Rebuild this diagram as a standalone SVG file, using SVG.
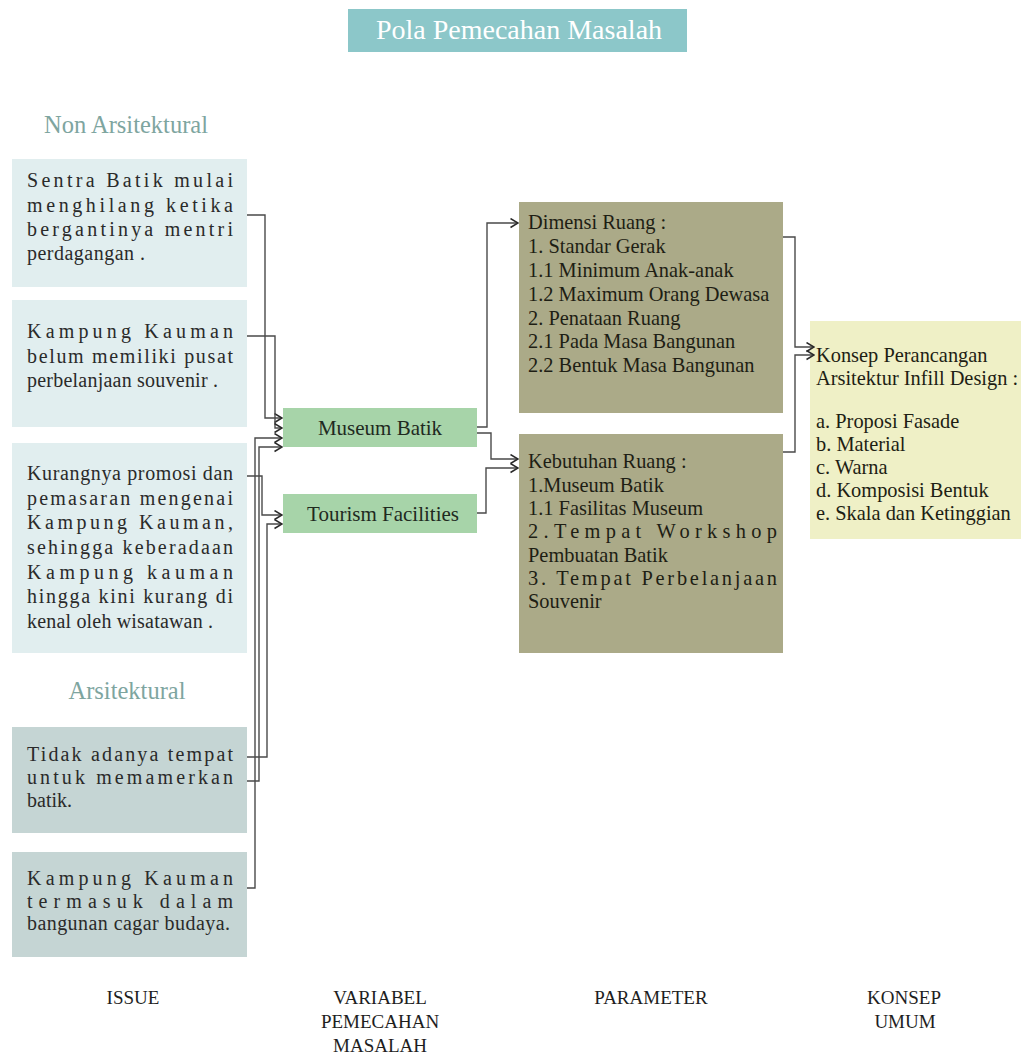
<svg xmlns="http://www.w3.org/2000/svg" width="1024" height="1064" viewBox="0 0 1024 1064">
  <style>
    .serif { font-family: "Liberation Serif", "Times New Roman", serif; }
    .body { font-size: 20px; fill: #2a2a2a; }
    .head { font-size: 24.5px; fill: #7ea59f; text-anchor: middle; }
    .col { font-size: 19px; fill: #1e1e1e; text-anchor: middle; }
    .var { font-size: 21px; fill: #1f2a1f; text-anchor: middle; }
    .par { font-size: 20.4px; fill: #1e1e14; }
    .issue-na { fill: #e1eeef; }
    .issue-a { fill: #c5d5d4; }
    .var-box { fill: #a7d4a9; }
    .par-box { fill: #abaa88; }
    .kon-box { fill: #eff0c6; }
    .link { fill: none; stroke: #4a4a4a; stroke-width: 1.4; marker-end: url(#arr); }
  </style>
  <defs>
    <marker id="arr" viewBox="0 0 9 11" refX="8.5" refY="5.5" markerWidth="9" markerHeight="11" markerUnits="userSpaceOnUse" orient="auto">
      <path d="M1,1 L8.5,5.5 L1,10" fill="none" stroke="#2a2a2a" stroke-width="1.5"/>
    </marker>
  </defs>

  <rect width="1024" height="1064" fill="#ffffff"/>

  <!-- title -->
  <g id="title">
    <rect x="348" y="9" width="339" height="43" fill="#8cc7c9"/>
    <text class="serif" x="519" y="39" font-size="28" fill="#ffffff" text-anchor="middle">Pola Pemecahan Masalah</text>
  </g>

  <!-- section headings -->
  <text id="head-non" class="serif head" x="126" y="133">Non Arsitektural</text>
  <text id="head-ars" class="serif head" x="127" y="699">Arsitektural</text>

  <!-- issue column -->
  <g id="issue-1">
    <rect class="issue-na" x="12" y="159" width="235" height="128"/>
    <text class="serif body">
      <tspan x="27" y="187" textLength="206" lengthAdjust="spacing">Sentra Batik mulai</tspan>
      <tspan x="27" y="212" textLength="206" lengthAdjust="spacing">menghilang ketika</tspan>
      <tspan x="27" y="236" textLength="206" lengthAdjust="spacing">bergantinya mentri</tspan>
      <tspan x="27" y="260" textLength="118" lengthAdjust="spacing">perdagangan .</tspan>
    </text>
  </g>
  <g id="issue-2">
    <rect class="issue-na" x="12" y="300" width="235" height="127"/>
    <text class="serif body">
      <tspan x="27" y="338" textLength="206" lengthAdjust="spacing">Kampung Kauman</tspan>
      <tspan x="27" y="363" textLength="206" lengthAdjust="spacing">belum memiliki pusat</tspan>
      <tspan x="27" y="387" textLength="191" lengthAdjust="spacing">perbelanjaan souvenir .</tspan>
    </text>
  </g>
  <g id="issue-3">
    <rect class="issue-na" x="12" y="443" width="235" height="210"/>
    <text class="serif body">
      <tspan x="27" y="480" textLength="206" lengthAdjust="spacing">Kurangnya promosi dan</tspan>
      <tspan x="27" y="505" textLength="206" lengthAdjust="spacing">pemasaran mengenai</tspan>
      <tspan x="27" y="529" textLength="206" lengthAdjust="spacing">Kampung Kauman,</tspan>
      <tspan x="27" y="554" textLength="206" lengthAdjust="spacing">sehingga keberadaan</tspan>
      <tspan x="27" y="579" textLength="206" lengthAdjust="spacing">Kampung kauman</tspan>
      <tspan x="27" y="603" textLength="206" lengthAdjust="spacing">hingga kini kurang di</tspan>
      <tspan x="27" y="628" textLength="186" lengthAdjust="spacing">kenal oleh wisatawan .</tspan>
    </text>
  </g>
  <g id="issue-4">
    <rect class="issue-a" x="12" y="727" width="235" height="106"/>
    <text class="serif body">
      <tspan x="27" y="761" textLength="206" lengthAdjust="spacing">Tidak adanya tempat</tspan>
      <tspan x="27" y="784" textLength="206" lengthAdjust="spacing">untuk memamerkan</tspan>
      <tspan x="27" y="807">batik.</tspan>
    </text>
  </g>
  <g id="issue-5">
    <rect class="issue-a" x="12" y="852" width="235" height="105"/>
    <text class="serif body">
      <tspan x="27" y="885" textLength="206" lengthAdjust="spacing">Kampung Kauman</tspan>
      <tspan x="27" y="908" textLength="206" lengthAdjust="spacing">termasuk dalam</tspan>
      <tspan x="27" y="930" textLength="203" lengthAdjust="spacing">bangunan cagar budaya.</tspan>
    </text>
  </g>

  <!-- variable column -->
  <g id="var-museum">
    <rect class="var-box" x="283" y="408" width="194" height="39"/>
    <text class="serif var" x="380" y="435">Museum Batik</text>
  </g>
  <g id="var-tourism">
    <rect class="var-box" x="283" y="494" width="194" height="39"/>
    <text class="serif var" x="383" y="521">Tourism Facilities</text>
  </g>

  <!-- parameter column -->
  <g id="par-dimensi">
    <rect class="par-box" x="519" y="202" width="264" height="211"/>
    <text class="serif par">
      <tspan x="528" y="229">Dimensi Ruang :</tspan>
      <tspan x="528" y="253">1. Standar Gerak</tspan>
      <tspan x="528" y="277">1.1 Minimum Anak-anak</tspan>
      <tspan x="528" y="301">1.2 Maximum Orang Dewasa</tspan>
      <tspan x="528" y="325">2. Penataan Ruang</tspan>
      <tspan x="528" y="348">2.1 Pada Masa Bangunan</tspan>
      <tspan x="528" y="372">2.2 Bentuk Masa Bangunan</tspan>
    </text>
  </g>
  <g id="par-kebutuhan">
    <rect class="par-box" x="519" y="434" width="264" height="219"/>
    <text class="serif par">
      <tspan x="528" y="468">Kebutuhan Ruang :</tspan>
      <tspan x="528" y="492">1.Museum Batik</tspan>
      <tspan x="528" y="515">1.1 Fasilitas Museum</tspan>
      <tspan x="528" y="538" textLength="249" lengthAdjust="spacing">2.Tempat Workshop</tspan>
      <tspan x="528" y="562">Pembuatan Batik</tspan>
      <tspan x="528" y="585" textLength="249" lengthAdjust="spacing">3. Tempat Perbelanjaan</tspan>
      <tspan x="528" y="608">Souvenir</tspan>
    </text>
  </g>

  <!-- concept column -->
  <g id="konsep">
    <rect class="kon-box" x="810" y="321" width="211" height="218"/>
    <text class="serif par">
      <tspan x="816" y="362">Konsep Perancangan</tspan>
      <tspan x="816" y="385">Arsitektur Infill Design :</tspan>
      <tspan x="816" y="428">a. Proposi Fasade</tspan>
      <tspan x="816" y="451">b. Material</tspan>
      <tspan x="816" y="474">c. Warna</tspan>
      <tspan x="816" y="497">d. Komposisi Bentuk</tspan>
      <tspan x="816" y="520">e. Skala dan Ketinggian</tspan>
    </text>
  </g>

  <!-- column captions -->
  <g id="captions" class="serif col">
    <text x="133" y="1004">ISSUE</text>
    <text x="380" y="1004">VARIABEL</text>
    <text x="380" y="1028">PEMECAHAN</text>
    <text x="380" y="1052">MASALAH</text>
    <text x="651" y="1004">PARAMETER</text>
    <text x="904" y="1004">KONSEP</text>
    <text x="905" y="1028">UMUM</text>
  </g>

  <!-- connectors -->
  <g id="connectors">
    <path class="link" d="M247,215 H265 V418 H282"/>
    <path class="link" d="M247,336 H275 V428 H282"/>
    <path class="link" d="M247,476 H262 V515 H282"/>
    <path class="link" d="M247,757 H267 V524 H282"/>
    <path class="link" d="M247,781 H259 V447 H282"/>
    <path class="link" d="M247,888 H255 V438 H282"/>
    <path class="link" d="M477,427 H487 V223 H518"/>
    <path class="link" d="M477,433 H491 V459 H518"/>
    <path class="link" d="M477,513 H486 V468 H518"/>
    <path class="link" d="M783,237 H795 V347 H814"/>
    <path class="link" d="M783,452 H795 V355 H814"/>
  </g>
</svg>
